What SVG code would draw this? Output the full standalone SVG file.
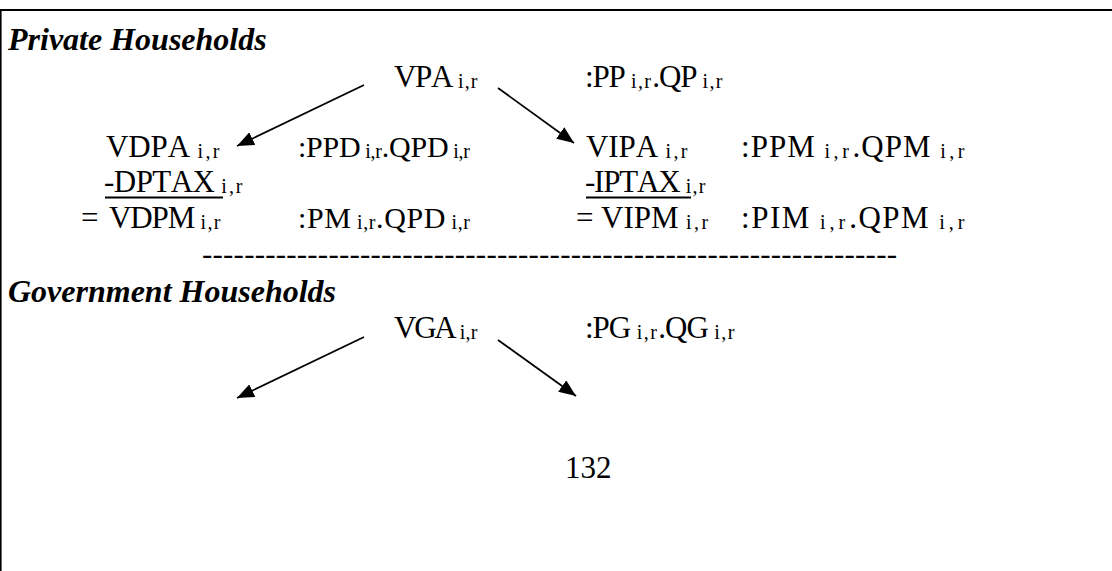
<svg xmlns="http://www.w3.org/2000/svg" width="1112" height="571" viewBox="0 0 1112 571">
  <style>
    .t { font-family: "Liberation Serif", "Times New Roman", serif; font-size: 31px; fill: #000; font-kerning: none; }
    .t30 { font-size: 30px; }
    .h { font-family: "Liberation Serif", "Times New Roman", serif; font-size: 32px; font-weight: bold; font-style: italic; fill: #000; }
    .s { font-size: 20px; letter-spacing: 2.5px; }
    .sn { font-size: 20px; }
    .edge { stroke: #000; stroke-width: 1.8; fill: none; }
    .ul { stroke: #000; stroke-width: 2.2; }
  </style>
  <defs>
    <marker id="head" markerUnits="userSpaceOnUse" markerWidth="18" markerHeight="14" refX="17" refY="7" orient="auto">
      <path d="M0,0 L17,7 L0,14 Z" fill="#000"/>
    </marker>
  </defs>

  <rect width="1112" height="571" fill="#fff"/>
  <!-- frame: top and left edges -->
  <line x1="0" y1="10" x2="1112" y2="10" stroke="#000" stroke-width="2.2"/>
  <line x1="0.8" y1="9" x2="0.8" y2="571" stroke="#000" stroke-width="1.6"/>

  <!-- Private households -->
  <g id="private-title"><text class="h" x="8" y="50">Private Households</text></g>
  <g id="vpa"><text class="t" x="394" y="87" textLength="86" lengthAdjust="spacing">VPA<tspan class="s" dy="1"> i,r</tspan></text></g>
  <g id="vpa-price"><text class="t" x="585" y="87" textLength="140" lengthAdjust="spacing">:PP<tspan class="s" dy="1"> i,r</tspan><tspan dy="-1">.QP</tspan><tspan class="s" dy="1"> i,r</tspan></text></g>

  <g id="vdpa"><text class="t" x="106" y="157" textLength="116" lengthAdjust="spacing">VDPA<tspan class="s" dy="1"> i,r</tspan></text></g>
  <g id="vdpa-price"><text class="t t30" x="298" y="157" textLength="172" lengthAdjust="spacing">:PPD<tspan class="sn" dy="1"> i,r</tspan><tspan dy="-1">.QPD</tspan><tspan class="sn" dy="1"> i,r</tspan></text></g>
  <g id="dptax">
    <text class="t" x="104" y="192" textLength="141" lengthAdjust="spacing">-DPTAX<tspan class="s" dy="1"> i,r</tspan></text>
    <line class="ul" x1="105" y1="197.5" x2="223" y2="197.5"/>
  </g>
  <g id="vdpm">
    <text class="t" x="81" y="228">=</text>
    <text class="t" x="109" y="228" textLength="114" lengthAdjust="spacing">VDPM<tspan class="s" dy="1"> i,r</tspan></text>
  </g>
  <g id="vdpm-price"><text class="t t30" x="298" y="228" textLength="172" lengthAdjust="spacing">:PM<tspan class="sn" dy="1"> i,r</tspan><tspan dy="-1">.QPD</tspan><tspan class="sn" dy="1"> i,r</tspan></text></g>

  <g id="vipa"><text class="t" x="586" y="157" textLength="104" lengthAdjust="spacing">VIPA<tspan class="s" dy="1"> i,r</tspan></text></g>
  <g id="vipa-price"><text class="t" x="741" y="157" textLength="226" lengthAdjust="spacing">:PPM<tspan class="s" dy="1"> i,r</tspan><tspan dy="-1">.QPM</tspan><tspan class="s" dy="1"> i,r</tspan></text></g>
  <g id="iptax">
    <text class="t" x="585" y="192" textLength="123" lengthAdjust="spacing">-IPTAX<tspan class="s" dy="1"> i,r</tspan></text>
    <line class="ul" x1="586" y1="197.5" x2="691" y2="197.5"/>
  </g>
  <g id="vipm">
    <text class="t" x="576" y="228">=</text>
    <text class="t" x="601" y="228">VIPM<tspan class="s" dy="1"> i,r</tspan></text>
  </g>
  <g id="vipm-price"><text class="t" x="741" y="228" textLength="226" lengthAdjust="spacing">:PIM<tspan class="s" dy="1"> i,r</tspan><tspan dy="-1">.QPM</tspan><tspan class="s" dy="1"> i,r</tspan></text></g>

  <!-- separator -->
  <g id="separator"><text class="t" x="202" y="264" textLength="695" lengthAdjust="spacing">------------------------------------------------------------------</text></g>

  <!-- Government households -->
  <g id="government-title"><text class="h" x="8" y="302">Government Households</text></g>
  <g id="vga"><text class="t" x="394" y="338" textLength="86" lengthAdjust="spacing">VGA<tspan class="s" dy="1"> i,r</tspan></text></g>
  <g id="vga-price"><text class="t" x="585" y="338" textLength="152" lengthAdjust="spacing">:PG<tspan class="s" dy="1"> i,r</tspan><tspan dy="-1">.QG</tspan><tspan class="s" dy="1"> i,r</tspan></text></g>

  <!-- page number -->
  <g id="page-number"><text class="t" x="565" y="478">132</text></g>

  <!-- connectors -->
  <g id="connectors">
    <line class="edge" x1="364" y1="85" x2="237" y2="146" marker-end="url(#head)"/>
    <line class="edge" x1="498" y1="88" x2="574" y2="143" marker-end="url(#head)"/>
    <line class="edge" x1="364" y1="337" x2="237" y2="398" marker-end="url(#head)"/>
    <line class="edge" x1="498" y1="340" x2="576" y2="396" marker-end="url(#head)"/>
  </g>
</svg>
